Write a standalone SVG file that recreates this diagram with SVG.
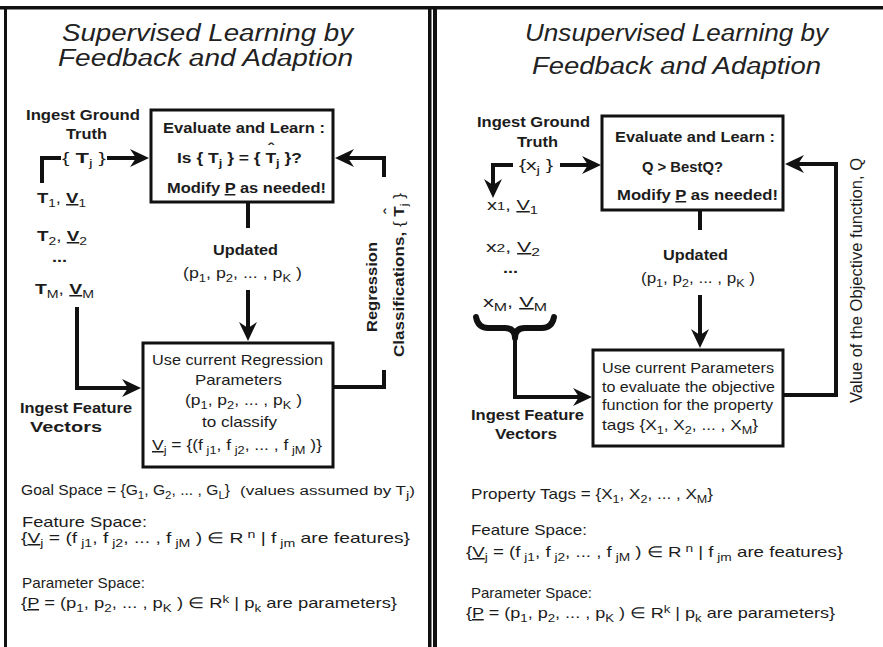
<svg xmlns="http://www.w3.org/2000/svg" width="883" height="647" viewBox="0 0 883 647">
  <defs>
    <style>
      .t { font-family: "Liberation Sans", Arial, sans-serif; font-size: 15px; fill: #1c1c1c; }
      .title { font-size: 23px; font-style: italic; fill: #222; }
      .b { font-weight: bold; }
      .sub { font-size: 11px; }
      .sm { font-size: 12.5px; }
      .rot { font-size: 16px; }
      .u { text-decoration: underline; }
      .box { fill: #fff; stroke: #111; stroke-width: 3; }
      .wire { fill: none; stroke: #111; stroke-width: 4; stroke-linejoin: miter; }
      .brace { fill: none; stroke: #111; stroke-width: 6; stroke-linecap: round; stroke-linejoin: round; }
      .frame { fill: #111; }
    </style>
    <marker id="ah" markerUnits="userSpaceOnUse" viewBox="-10 -10 25 20" markerWidth="25" markerHeight="20" refX="0" refY="0" orient="auto">
      <path d="M-7,-9 L12,0 L-7,9 L-1,0 Z" fill="#111"/>
    </marker>
  </defs>

  <rect width="883" height="647" fill="#fff"/>

  <!-- outer frame and panel divider -->
  <g id="frame">
    <rect class="frame" x="0" y="6" width="883" height="3.5"/>
    <rect class="frame" x="4" y="6" width="3" height="641"/>
    <rect class="frame" x="428" y="6" width="3.5" height="641"/>
    <rect class="frame" x="433" y="6" width="4" height="641"/>
  </g>

  <!-- ===== left panel: supervised ===== -->
  <g id="sup-title">
    <text class="t title" x="62" y="41" textLength="291" lengthAdjust="spacingAndGlyphs">Supervised Learning by</text>
    <text class="t title" x="58" y="66" textLength="295" lengthAdjust="spacingAndGlyphs">Feedback and Adaption</text>
  </g>

  <g id="sup-connectors">
    <polyline class="wire" points="61,158 42,158 42,183"/>
    <line class="wire" x1="107" y1="158" x2="137" y2="158" marker-end="url(#ah)"/>
    <line class="wire" x1="248" y1="202" x2="248" y2="228"/>
    <line class="wire" x1="248" y1="290" x2="248" y2="329" marker-end="url(#ah)"/>
    <polyline class="wire" points="77,307 77,388 129,388" marker-end="url(#ah)"/>
    <polyline class="wire" points="333,387 384,387 384,370"/>
    <polyline class="wire" points="384,177 384,158 347,158" marker-end="url(#ah)"/>
  </g>

  <g id="sup-ground-truth">
    <text class="t b" x="26" y="120" textLength="114" lengthAdjust="spacingAndGlyphs">Ingest Ground</text>
    <text class="t b" x="66" y="139" textLength="41" lengthAdjust="spacingAndGlyphs">Truth</text>
    <text class="t" x="62" y="163" textLength="44" lengthAdjust="spacingAndGlyphs">{ <tspan class="b">T</tspan><tspan class="sub" dy="4">j</tspan><tspan dy="-4"> }</tspan></text>
  </g>

  <g id="sup-evaluate">
    <rect class="box" x="151" y="110" width="182" height="92"/>
    <text class="t b" x="163" y="133" textLength="162" lengthAdjust="spacingAndGlyphs">Evaluate and Learn :</text>
    <!-- the hat over the second T rides inside the same line -->
    <text class="t b" x="177" y="163" textLength="125" lengthAdjust="spacingAndGlyphs">Is { T<tspan class="sub" dy="4">j</tspan><tspan dy="-4"> } = { T</tspan><tspan dx="-7" dy="-9">ˆ</tspan><tspan class="sub" dx="2" dy="13">j</tspan><tspan dy="-4"> }?</tspan></text>
    <text class="t b" x="167" y="193" textLength="159" lengthAdjust="spacingAndGlyphs">Modify <tspan class="u">P</tspan> as needed!</text>
  </g>

  <g id="sup-samples">
    <text class="t" x="37" y="203" textLength="49" lengthAdjust="spacingAndGlyphs"><tspan class="b">T</tspan><tspan class="sub" dy="4">1</tspan><tspan dy="-4">, </tspan><tspan class="b u">V</tspan><tspan class="sub" dy="4">1</tspan></text>
    <text class="t" x="37" y="241" textLength="50" lengthAdjust="spacingAndGlyphs"><tspan class="b">T</tspan><tspan class="sub" dy="4">2</tspan><tspan dy="-4">, </tspan><tspan class="b u">V</tspan><tspan class="sub" dy="4">2</tspan></text>
    <text class="t b" x="52" y="262" textLength="15" lengthAdjust="spacingAndGlyphs">...</text>
    <text class="t" x="35" y="294" textLength="59" lengthAdjust="spacingAndGlyphs"><tspan class="b">T</tspan><tspan class="sub" dy="4">M</tspan><tspan dy="-4">, </tspan><tspan class="b u">V</tspan><tspan class="sub" dy="4">M</tspan></text>
  </g>

  <g id="sup-updated">
    <text class="t b" x="213" y="255" textLength="65" lengthAdjust="spacingAndGlyphs">Updated</text>
    <text class="t" x="183" y="278" textLength="119" lengthAdjust="spacingAndGlyphs">(p<tspan class="sub" dy="4">1</tspan><tspan dy="-4">, p</tspan><tspan class="sub" dy="4">2</tspan><tspan dy="-4">, ... , p</tspan><tspan class="sub" dy="4">K</tspan><tspan dy="-4"> )</tspan></text>
  </g>

  <g id="sup-classify">
    <rect class="box" x="143" y="343" width="190" height="124"/>
    <text class="t" x="152" y="365" textLength="171" lengthAdjust="spacingAndGlyphs">Use current Regression</text>
    <text class="t" x="195" y="385" textLength="87" lengthAdjust="spacingAndGlyphs">Parameters</text>
    <text class="t" x="185" y="405" textLength="117" lengthAdjust="spacingAndGlyphs">(p<tspan class="sub" dy="4">1</tspan><tspan dy="-4">, p</tspan><tspan class="sub" dy="4">2</tspan><tspan dy="-4">, ... , p</tspan><tspan class="sub" dy="4">K</tspan><tspan dy="-4"> )</tspan></text>
    <text class="t" x="202" y="427" textLength="75" lengthAdjust="spacingAndGlyphs">to classify</text>
    <text class="t" x="152" y="450" textLength="170" lengthAdjust="spacingAndGlyphs"><tspan class="u">V</tspan><tspan class="sub" dy="4">j</tspan><tspan dy="-4"> = {(f</tspan><tspan class="sub" dy="4"> j1</tspan><tspan dy="-4">, f</tspan><tspan class="sub" dy="4"> j2</tspan><tspan dy="-4">, ... , f</tspan><tspan class="sub" dy="4"> jM</tspan><tspan dy="-4"> )}</tspan></text>
  </g>

  <g id="sup-feature">
    <text class="t b" x="20" y="413" textLength="112" lengthAdjust="spacingAndGlyphs">Ingest Feature</text>
    <text class="t b" x="30" y="432" textLength="72" lengthAdjust="spacingAndGlyphs">Vectors</text>
  </g>

  <g id="sup-regression-label">
    <text class="t b" transform="translate(377 332) rotate(-90)" x="0" y="0" textLength="90" lengthAdjust="spacingAndGlyphs">Regression</text>
    <g transform="translate(404 357) rotate(-90)">
      <text class="t" x="0" y="0" textLength="164" lengthAdjust="spacingAndGlyphs"><tspan class="b">Classifications,</tspan> { <tspan class="b">T</tspan><tspan class="b" dx="-7" dy="-9">ˆ</tspan><tspan class="sub" dx="2" dy="13">j</tspan><tspan dy="-4"> }</tspan></text>
    </g>
  </g>

  <g id="sup-spaces">
    <text class="t" x="21" y="495" textLength="209" lengthAdjust="spacingAndGlyphs">Goal Space = {G<tspan class="sub" dy="4">1</tspan><tspan dy="-4">, G</tspan><tspan class="sub" dy="4">2</tspan><tspan dy="-4">, ... , G</tspan><tspan class="sub" dy="4">L</tspan><tspan dy="-4">}</tspan></text>
    <text class="t sm" x="240" y="495" textLength="175" lengthAdjust="spacingAndGlyphs">(values assumed by T<tspan class="sub" dy="4">j</tspan><tspan dy="-4">)</tspan></text>
    <text class="t" x="22" y="527" textLength="125" lengthAdjust="spacingAndGlyphs">Feature Space:</text>
    <text class="t" x="21" y="543" textLength="389" lengthAdjust="spacingAndGlyphs">{<tspan class="u">V</tspan><tspan class="sub" dy="4">j</tspan><tspan dy="-4"> = (f</tspan><tspan class="sub" dy="4"> j1</tspan><tspan dy="-4">,  f</tspan><tspan class="sub" dy="4"> j2</tspan><tspan dy="-4">, ... ,  f</tspan><tspan class="sub" dy="4"> jM</tspan><tspan dy="-4"> ) ∈ R</tspan><tspan class="sub" dy="-5"> n</tspan><tspan dy="5"> |  f</tspan><tspan class="sub" dy="4"> jm</tspan><tspan dy="-4"> are  features}</tspan></text>
    <text class="t" x="22" y="588" textLength="123" lengthAdjust="spacingAndGlyphs">Parameter Space:</text>
    <text class="t" x="21" y="608" textLength="376" lengthAdjust="spacingAndGlyphs">{<tspan class="u">P</tspan>  = (p<tspan class="sub" dy="4">1</tspan><tspan dy="-4">, p</tspan><tspan class="sub" dy="4">2</tspan><tspan dy="-4">, ... , p</tspan><tspan class="sub" dy="4">K</tspan><tspan dy="-4"> ) ∈ R</tspan><tspan class="sub" dy="-5">k</tspan><tspan dy="5">  |  p</tspan><tspan class="sub" dy="4">k</tspan><tspan dy="-4">  are parameters}</tspan></text>
  </g>

  <!-- ===== right panel: unsupervised ===== -->
  <g id="unsup-title">
    <text class="t title" x="525" y="41" textLength="303" lengthAdjust="spacingAndGlyphs">Unsupervised Learning by</text>
    <text class="t title" x="532" y="74" textLength="289" lengthAdjust="spacingAndGlyphs">Feedback and Adaption</text>
  </g>

  <g id="unsup-connectors">
    <polyline class="wire" points="513,165 493,165 493,186" marker-end="url(#ah)"/>
    <line class="wire" x1="560" y1="165" x2="589" y2="165" marker-end="url(#ah)"/>
    <line class="wire" x1="700" y1="210" x2="700" y2="230"/>
    <line class="wire" x1="700" y1="295" x2="700" y2="336" marker-end="url(#ah)"/>
    <path class="brace" d="M476,317 Q478,328 488,328 L505,328 Q515,328 515,338 Q515,328 525,328 L542,328 Q552,328 554,317"/>
    <polyline class="wire" points="515,336 515,397 580,397" marker-end="url(#ah)"/>
    <polyline class="wire" points="783,395 836,395 836,164 797,164" marker-end="url(#ah)"/>
  </g>

  <g id="unsup-ground-truth">
    <text class="t b" x="477" y="127" textLength="113" lengthAdjust="spacingAndGlyphs">Ingest Ground</text>
    <text class="t b" x="517" y="147" textLength="41" lengthAdjust="spacingAndGlyphs">Truth</text>
    <text class="t" x="519" y="170" textLength="34" lengthAdjust="spacingAndGlyphs">{x<tspan class="sub" dy="4">j</tspan><tspan dy="-4"> }</tspan></text>
  </g>

  <g id="unsup-evaluate">
    <rect class="box" x="602" y="116" width="181" height="94"/>
    <text class="t b" x="615" y="142" textLength="160" lengthAdjust="spacingAndGlyphs">Evaluate and Learn :</text>
    <text class="t b" x="642" y="172" textLength="81" lengthAdjust="spacingAndGlyphs">Q &gt; BestQ?</text>
    <text class="t b" x="617" y="200" textLength="161" lengthAdjust="spacingAndGlyphs">Modify <tspan class="u">P</tspan> as needed!</text>
  </g>

  <g id="unsup-samples">
    <text class="t" x="487" y="210" textLength="51" lengthAdjust="spacingAndGlyphs">x<tspan class="sub">1</tspan>, <tspan class="u">V</tspan><tspan class="sub" dy="4">1</tspan></text>
    <text class="t" x="486" y="252" textLength="54" lengthAdjust="spacingAndGlyphs">x<tspan class="sub">2</tspan>, <tspan class="u">V</tspan><tspan class="sub" dy="4">2</tspan></text>
    <text class="t b" x="503" y="273" textLength="15" lengthAdjust="spacingAndGlyphs">...</text>
    <text class="t" x="483" y="307" textLength="64" lengthAdjust="spacingAndGlyphs">x<tspan class="sub" dy="4">M</tspan><tspan dy="-4">, </tspan><tspan class="u">V</tspan><tspan class="sub" dy="4">M</tspan></text>
  </g>

  <g id="unsup-updated">
    <text class="t b" x="663" y="260" textLength="65" lengthAdjust="spacingAndGlyphs">Updated</text>
    <text class="t" x="641" y="283" textLength="114" lengthAdjust="spacingAndGlyphs">(p<tspan class="sub" dy="4">1</tspan><tspan dy="-4">, p</tspan><tspan class="sub" dy="4">2</tspan><tspan dy="-4">, ... , p</tspan><tspan class="sub" dy="4">K</tspan><tspan dy="-4"> )</tspan></text>
  </g>

  <g id="unsup-objective">
    <rect class="box" x="593" y="350" width="190" height="96"/>
    <text class="t" x="602" y="373" textLength="172" lengthAdjust="spacingAndGlyphs">Use current Parameters</text>
    <text class="t" x="602" y="392" textLength="173" lengthAdjust="spacingAndGlyphs">to evaluate the objective</text>
    <text class="t" x="602" y="410" textLength="171" lengthAdjust="spacingAndGlyphs">function for the property</text>
    <text class="t" x="602" y="430" textLength="156" lengthAdjust="spacingAndGlyphs">tags {X<tspan class="sub" dy="4">1</tspan><tspan dy="-4">, X</tspan><tspan class="sub" dy="4">2</tspan><tspan dy="-4">, ... , X</tspan><tspan class="sub" dy="4">M</tspan><tspan dy="-4">}</tspan></text>
  </g>

  <g id="unsup-feature">
    <text class="t b" x="471" y="420" textLength="113" lengthAdjust="spacingAndGlyphs">Ingest Feature</text>
    <text class="t b" x="495" y="439" textLength="62" lengthAdjust="spacingAndGlyphs">Vectors</text>
  </g>

  <g id="unsup-objective-label">
    <text class="t rot" transform="translate(862 403) rotate(-90)" x="0" y="0" textLength="245" lengthAdjust="spacingAndGlyphs">Value of the Objective function, Q</text>
  </g>

  <g id="unsup-spaces">
    <text class="t" x="471" y="499" textLength="242" lengthAdjust="spacingAndGlyphs">Property Tags = {X<tspan class="sub" dy="4">1</tspan><tspan dy="-4">, X</tspan><tspan class="sub" dy="4">2</tspan><tspan dy="-4">, ... , X</tspan><tspan class="sub" dy="4">M</tspan><tspan dy="-4">}</tspan></text>
    <text class="t" x="471" y="535" textLength="116" lengthAdjust="spacingAndGlyphs">Feature Space:</text>
    <text class="t" x="466" y="557" textLength="377" lengthAdjust="spacingAndGlyphs">{<tspan class="u">V</tspan><tspan class="sub" dy="4">j</tspan><tspan dy="-4"> = (f</tspan><tspan class="sub" dy="4"> j1</tspan><tspan dy="-4">,  f</tspan><tspan class="sub" dy="4"> j2</tspan><tspan dy="-4">, ... ,  f</tspan><tspan class="sub" dy="4"> jM</tspan><tspan dy="-4"> ) ∈ R</tspan><tspan class="sub" dy="-5"> n</tspan><tspan dy="5"> |  f</tspan><tspan class="sub" dy="4"> jm</tspan><tspan dy="-4"> are  features}</tspan></text>
    <text class="t" x="471" y="598" textLength="121" lengthAdjust="spacingAndGlyphs">Parameter Space:</text>
    <text class="t" x="466" y="618" textLength="369" lengthAdjust="spacingAndGlyphs">{<tspan class="u">P</tspan>  = (p<tspan class="sub" dy="4">1</tspan><tspan dy="-4">, p</tspan><tspan class="sub" dy="4">2</tspan><tspan dy="-4">, ... , p</tspan><tspan class="sub" dy="4">K</tspan><tspan dy="-4"> ) ∈ R</tspan><tspan class="sub" dy="-5">k</tspan><tspan dy="5">  |  p</tspan><tspan class="sub" dy="4">k</tspan><tspan dy="-4">  are parameters}</tspan></text>
  </g>
</svg>
